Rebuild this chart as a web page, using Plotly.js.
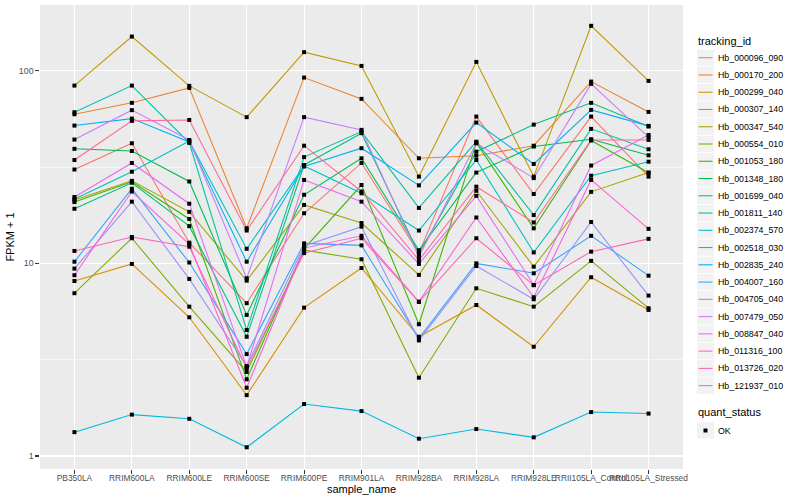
<!DOCTYPE html>
<html>
<head>
<meta charset="utf-8">
<script src="https://cdn.plot.ly/plotly-3.0.1.min.js"></script>
<style>html,body{margin:0;padding:0;background:#fff;}#chart{width:800px;height:500px;}</style>
</head>
<body>
<div id="chart"></div>
<script>
// ---------------- data ----------------
const samples = ["PB350LA","RRIM600LA","RRIM600LE","RRIM600SE","RRIM600PE","RRIM901LA",
                 "RRIM928BA","RRIM928LA","RRIM928LE","RRII105LA_Control","RRII105LA_Stressed"];

const trackingIds = ["Hb_000096_090","Hb_000170_200","Hb_000299_040","Hb_000307_140","Hb_000347_540",
  "Hb_000554_010","Hb_001053_180","Hb_001348_180","Hb_001699_040","Hb_001811_140","Hb_002374_570",
  "Hb_002518_030","Hb_002835_240","Hb_004007_160","Hb_004705_040","Hb_007479_050","Hb_008847_040",
  "Hb_011316_100","Hb_013726_020","Hb_121937_010"];

// FPKM + 1 per sample (same order as samples)
const hb_000096_090 = [30.7, 42.0, 12.8, 6.21, 18.2, 33.2, 11.3, 57.8, 22.9, 57.8, 28.2];
const hb_000170_200 = [59.4, 68.1, 81.4, 15.2, 92.1, 71.4, 35.1, 36.2, 40.8, 87.8, 61.1];
const hb_000299_040 = [8.10, 9.93, 5.25, 2.07, 5.89, 9.46, 4.16, 6.08, 3.69, 8.47, 5.73];
const hb_000307_140 = [83.7, 150.4, 83.4, 57.4, 124.8, 105.9, 28.2, 111.1, 28.2, 171, 88.5];
const hb_000347_540 = [21.3, 26.8, 18.5, 8.13, 20.1, 16.2, 8.71, 23.8, 9.61, 23.5, 29.6];
const hb_000554_010 = [7.0, 13.5, 5.96, 2.73, 11.7, 10.5, 2.55, 7.42, 5.96, 10.3, 5.85];
const hb_001053_180 = [20.8, 26.5, 17.0, 2.50, 11.9, 25.5, 4.83, 42.2, 15.2, 43.4, 29.5];
const hb_001348_180 = [39.3, 38.3, 26.6, 5.40, 22.7, 35.1, 11.7, 29.6, 40.4, 44.1, 36.4];
const hb_001699_040 = [19.2, 26.2, 15.6, 4.16, 32.4, 47.4, 11.2, 38.0, 52.5, 68.1, 51.3];
const hb_001811_140 = [60.9, 83.7, 42.2, 4.51, 35.6, 48.3, 19.4, 42.8, 17.8, 49.9, 39.1];
const hb_002374_570 = [21.6, 29.9, 43.2, 11.9, 32.0, 23.1, 14.8, 34.4, 11.4, 28.5, 33.7];
const hb_002518_030 = [1.33, 1.64, 1.56, 1.11, 1.86, 1.71, 1.23, 1.38, 1.25, 1.69, 1.66];
const hb_002835_240 = [51.9, 56.4, 42.7, 10.2, 31.8, 39.6, 25.4, 53.8, 32.8, 62.6, 51.7];
const hb_004007_160 = [10.2, 24.4, 10.1, 3.38, 12.7, 12.4, 4.08, 10.0, 8.88, 13.9, 8.63];
const hb_004705_040 = [9.39, 20.9, 8.30, 2.93, 12.3, 15.5, 3.98, 9.69, 6.51, 16.4, 6.80];
const hb_007479_050 = [43.9, 62.4, 43.7, 8.37, 57.4, 49.3, 10.8, 42.0, 27.7, 85.4, 45.2];
const hb_008847_040 = [22.1, 33.2, 20.4, 2.90, 27.1, 20.9, 9.93, 22.4, 7.72, 32.2, 46.4];
const hb_011316_100 = [8.68, 23.6, 12.6, 2.26, 12.0, 13.9, 6.33, 17.3, 6.67, 27.1, 15.1];
const hb_013726_020 = [11.6, 13.7, 12.2, 2.85, 11.3, 13.5, 6.30, 13.5, 7.70, 11.5, 13.4];
const hb_121937_010 = [34.4, 54.9, 55.5, 14.8, 40.8, 23.6, 10.4, 25.0, 16.3, 43.7, 43.7];

const seriesValues = [hb_000096_090, hb_000170_200, hb_000299_040, hb_000307_140, hb_000347_540,
  hb_000554_010, hb_001053_180, hb_001348_180, hb_001699_040, hb_001811_140, hb_002374_570,
  hb_002518_030, hb_002835_240, hb_004007_160, hb_004705_040, hb_007479_050, hb_008847_040,
  hb_011316_100, hb_013726_020, hb_121937_010];

const quantStatus = ["OK"];
const yTickVals = [1, 10, 100];
const yTickText = ["1", "10", "100"];
const yMinorVals = [3.1623, 31.623];

// ---------------- ggplot-like hue palette ----------------
function hcl(h, c, l) {
  const hr = h * Math.PI / 180;
  const U = c * Math.cos(hr), V = c * Math.sin(hr);
  const Xn = 95.047, Yn = 100, Zn = 108.883;
  const Y = l > 8 ? Yn * Math.pow((l + 16) / 116, 3) : Yn * l / 903.3;
  const t = Xn + 15 * Yn + 3 * Zn;
  const un = 4 * Xn / t, vn = 9 * Yn / t;
  const u = U / (13 * l) + un, v = V / (13 * l) + vn;
  const X = 9 * Y * u / (4 * v);
  const Z = Y * (12 - 3 * u - 20 * v) / (4 * v);
  const x = X / 100, y = Y / 100, z = Z / 100;
  const lin = [3.240479 * x - 1.537150 * y - 0.498535 * z,
              -0.969256 * x + 1.875992 * y + 0.041556 * z,
               0.055648 * x - 0.204043 * y + 1.057311 * z];
  const hex = lin.map(cv => {
    let g = cv <= 0.0031308 ? 12.92 * cv : 1.055 * Math.pow(cv, 1 / 2.4) - 0.055;
    g = Math.max(0, Math.min(1, g));
    return Math.round(g * 255).toString(16).padStart(2, "0");
  });
  return "#" + hex.join("");
}
const n = trackingIds.length;
const colors = trackingIds.map((_, i) => hcl(15 + 360 / n * i, 100, 65));

// ---------------- traces ----------------
const traces = [];
trackingIds.forEach((id, i) => {
  traces.push({
    type: "scatter", mode: "lines", x: samples, y: seriesValues[i], name: id,
    line: {color: colors[i], width: 1.07}, showlegend: false, hoverinfo: "skip"
  });
});
trackingIds.forEach((id, i) => {
  traces.push({
    type: "scatter", mode: "markers", x: samples, y: seriesValues[i], name: quantStatus[0],
    marker: {symbol: "square", size: 4, color: "#000000", line: {width: 0}},
    showlegend: false, hoverinfo: "skip"
  });
});

// ---------------- layout ----------------
const W = 800, H = 500, ML = 40, MR = 117, MT = 5, MB = 31;
const PW = W - ML - MR, PH = H - MT - MB;
const px = v => (v - ML) / PW;
const py = v => (H - MB - v) / PH;
const FONT = "Liberation Sans, Arial, Helvetica, sans-serif";

const shapes = [], annotations = [];
annotations.push({xref: "paper", yref: "paper", x: px(695.5), y: py(41), xanchor: "left", yanchor: "middle",
  text: "tracking_id", showarrow: false, font: {size: 11, color: "#000", family: FONT}});
trackingIds.forEach((id, i) => {
  const c = 57.7 + 17.26 * i;
  shapes.push({type: "rect", xref: "paper", yref: "paper", x0: px(697), x1: px(714), y0: py(c - 8.2), y1: py(c + 8.2),
    fillcolor: "#F2F2F2", line: {width: 0}, layer: "below"});
  shapes.push({type: "line", xref: "paper", yref: "paper", x0: px(698.5), x1: px(712.5), y0: py(c), y1: py(c),
    line: {color: colors[i], width: 1.07}});
  annotations.push({xref: "paper", yref: "paper", x: px(715.5), y: py(c), xanchor: "left", yanchor: "middle",
    text: id, showarrow: false, font: {size: 8.8, color: "#000", family: FONT}});
});
annotations.push({xref: "paper", yref: "paper", x: px(695.5), y: py(412), xanchor: "left", yanchor: "middle",
  text: "quant_status", showarrow: false, font: {size: 11, color: "#000", family: FONT}});
const okC = 430.5;
shapes.push({type: "rect", xref: "paper", yref: "paper", x0: px(697), x1: px(714), y0: py(okC - 8.2), y1: py(okC + 8.2),
  fillcolor: "#F2F2F2", line: {width: 0}, layer: "below"});
shapes.push({type: "rect", xref: "paper", yref: "paper", x0: px(703.5), x1: px(707.5), y0: py(okC - 2), y1: py(okC + 2),
  fillcolor: "#000", line: {width: 0}});
annotations.push({xref: "paper", yref: "paper", x: px(715.5), y: py(okC), xanchor: "left", yanchor: "middle",
  text: quantStatus[0], showarrow: false, font: {size: 8.8, color: "#000", family: FONT}});

const layout = {
  width: W, height: H,
  margin: {l: ML, r: MR, t: MT, b: MB, pad: 0},
  paper_bgcolor: "#FFFFFF", plot_bgcolor: "#EBEBEB",
  font: {family: FONT, size: 8.8, color: "#4D4D4D"},
  showlegend: false,
  xaxis: {
    type: "category", categoryorder: "array", categoryarray: samples,
    range: [-0.6, samples.length - 0.4], fixedrange: true,
    showgrid: true, gridcolor: "#FFFFFF", gridwidth: 1.07, zeroline: false, showline: false,
    ticks: "outside", ticklen: 3.7, tickwidth: 1.07, tickcolor: "#333333", tickangle: 0,
    ticklabelstandoff: -3,
    tickfont: {size: 8.4, color: "#4D4D4D", family: FONT}, automargin: false,
    title: {text: "sample_name", font: {size: 11, color: "#000", family: FONT}, standoff: 2}
  },
  yaxis: {
    type: "log", range: [-0.0675, 2.341], fixedrange: true,
    tickmode: "array", tickvals: yTickVals, ticktext: yTickText,
    showgrid: true, gridcolor: "#FFFFFF", gridwidth: 1.07, zeroline: false, showline: false,
    ticks: "outside", ticklen: 3.7, tickwidth: 1.07, tickcolor: "#333333",
    tickfont: {size: 8.8, color: "#4D4D4D", family: FONT}, automargin: false,
    minor: {tickmode: "array", tickvals: yMinorVals, showgrid: true, gridcolor: "#FFFFFF", gridwidth: 0.53, ticks: ""},
    title: {text: "FPKM + 1", font: {size: 11, color: "#000", family: FONT}, standoff: 2}
  },
  shapes: shapes,
  annotations: annotations
};

Plotly.newPlot("chart", traces, layout, {displayModeBar: false, staticPlot: true});
</script>
</body>
</html>
